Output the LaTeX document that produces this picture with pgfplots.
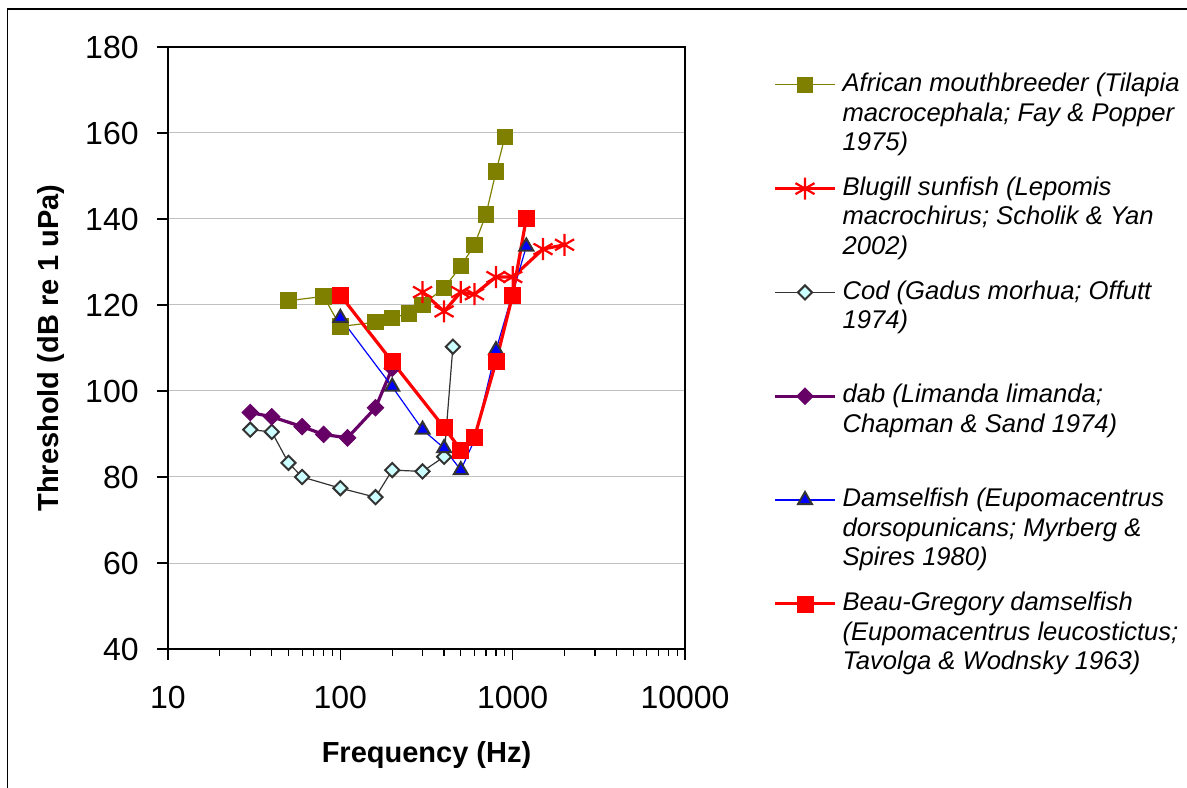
\documentclass[border=0pt]{standalone}
\usepackage{pgfplots}
\pgfplotsset{compat=1.18}
\usepackage{fontspec}
\setmainfont{Liberation Sans}
\definecolor{olivec}{RGB}{128,128,0}
\definecolor{codfill}{RGB}{204,255,255}
\definecolor{darkedge}{RGB}{51,51,51}
\definecolor{dabc}{RGB}{102,0,102}
\definecolor{gridc}{RGB}{192,192,192}
\newcommand{\legtxt}[1]{\parbox[t][51.9pt][t]{200pt}{\fontsize{12.8}{14.75}\selectfont\itshape\raggedright\strut #1}}
\begin{document}
\begin{tikzpicture}
\path[use as bounding box] (0pt,0pt) rectangle (593.5pt,393.5pt);
\draw[line width=0.7pt] (3.75pt,-2pt) -- (3.75pt,389pt) -- (596pt,389pt);
\begin{axis}[
  at={(84pt,69pt)}, anchor=south west,
  scale only axis, width=258.5pt, height=301pt,
  xmode=log, xmin=10, xmax=10000, ymin=40, ymax=180,
  xtick={10,100,1000,10000}, xticklabels={10,100,1000,10000},
  minor xtick={20,30,40,50,60,70,80,90,200,300,400,500,600,700,800,900,2000,3000,4000,5000,6000,7000,8000,9000},
  ytick={40,60,80,100,120,140,160,180},
  yticklabels={40,60,80,100,120,140,160,180},
  tick align=outside, major tick length=5.5pt, minor tick length=3.5pt,
  xtick pos=bottom, ytick pos=left,
  tick style={black, line width=0.6pt},
  axis line style={line width=0.65pt},
  ymajorgrids, grid style={gridc, line width=0.5pt},
  ticklabel style={font=\fontsize{16}{19}\selectfont},
  yticklabel style={anchor=east, inner sep=0pt, xshift=-9pt},
  xticklabel style={anchor=north, inner sep=0pt, yshift=-13pt},
  xlabel={Frequency (Hz)}, ylabel={Threshold (dB re 1 uPa)},
  label style={font=\fontsize{14.5}{17}\selectfont\bfseries},
  xlabel style={at={(axis description cs:0.5,-0.176)}, anchor=center},
  ylabel style={at={(axis description cs:-0.2263,0.5)}, anchor=center},
  legend image code/.code={\draw[mark repeat=2,mark phase=2,#1] plot coordinates {(0pt,3.35pt)(15pt,3.35pt)(30pt,3.35pt)};},
  legend style={at={(axis description cs:1.1702,0.961)}, anchor=north west, draw=none, fill=none,
    inner sep=0pt, row sep=0pt, column sep=3pt,
    nodes={inner sep=0pt, text depth=, anchor=base west}},
  legend cell align=left,
]
\addplot[olivec, line width=0.6pt, mark=square*, mark size=3.8pt, mark options={fill=olivec, draw=olivec, solid}]
 coordinates {(50,121) (80,122) (100,115) (160,116) (200,117) (250,118) (300,120) (400,124) (500,129) (600,134) (700,141) (800,151) (900,159)};
\addlegendentry{\legtxt{African mouthbreeder (Tilapia\\ macrocephala; Fay \& Popper\\ 1975)}}
\addplot[red, line width=1.6pt, mark=asterisk, mark size=5.5pt, mark options={line width=1.1pt, solid}]
 coordinates {(300,123) (400,118.5) (500,123) (600,122.5) (800,126.5) (1000,126.5) (1500,133) (2000,134)};
\addlegendentry{\legtxt{Blugill sunfish (Lepomis\\ macrochirus; Scholik \& Yan\\ 2002)}}
\addplot[darkedge, line width=0.6pt, mark=square*, mark size=2.5pt, mark options={rotate=45, fill=codfill, draw=darkedge, line width=1pt, solid}]
 coordinates {(30,91) (40,90.5) (50,83.3) (60,80) (100,77.4) (160,75.3) (200,81.6) (300,81.3) (400,84.7) (450,110.3)};
\addlegendentry{\legtxt{Cod (Gadus morhua; Offutt\\ 1974)}}
\addplot[dabc, line width=1.6pt, mark=square*, mark size=2.9pt, mark options={rotate=45, fill=dabc, draw=dabc, line width=0.5pt, solid}]
 coordinates {(30,95) (40,94) (60,91.7) (80,89.9) (110,89.1) (160,96.1) (200,105.3)};
\addlegendentry{\legtxt{dab (Limanda limanda;\\ Chapman \& Sand 1974)}}
\addplot[blue, line width=0.6pt, mark=triangle*, mark size=4pt, mark options={fill=blue, draw=darkedge, line width=1pt, solid}]
 coordinates {(100,117) (200,101) (300,91) (400,86.7) (500,81.6) (600,88.6) (800,109.5) (1200,133.6)};
\addlegendentry{\legtxt{Damselfish (Eupomacentrus\\ dorsopunicans; Myrberg \&\\ Spires 1980)}}
\addplot[red, line width=1.6pt, mark=square*, mark size=4pt, mark options={fill=red, draw=red, line width=0.3pt, solid}]
 coordinates {(100,122.3) (200,106.8) (400,91.5) (500,86.3) (600,89.2) (800,106.8) (1000,122.3) (1200,140.2)};
\addlegendentry{\legtxt{Beau-Gregory damselfish\\ (Eupomacentrus leucostictus;\\ Tavolga \& Wodnsky 1963)}}
\end{axis}
\end{tikzpicture}
\end{document}
